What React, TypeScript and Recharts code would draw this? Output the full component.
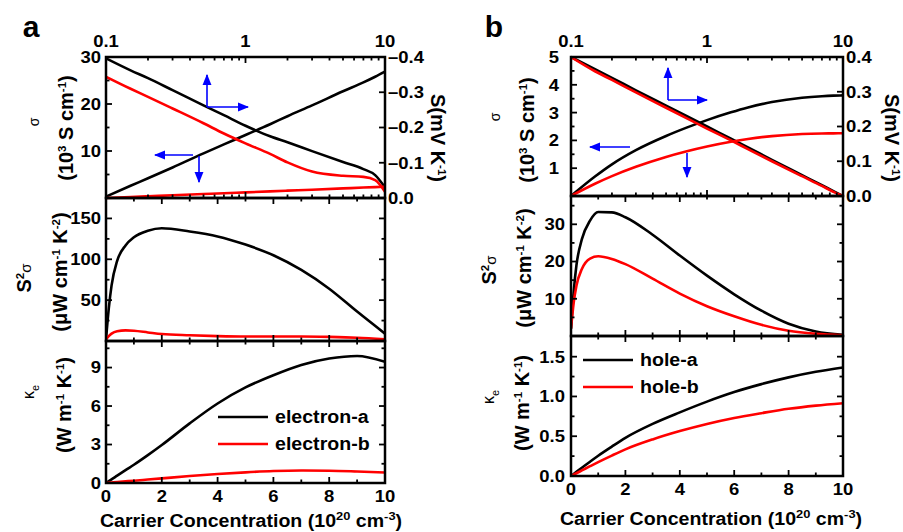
import React from "react";
import { LineChart, Line, XAxis, YAxis } from "recharts";

const W = 903;
const H = 532;
const FONT = "'Liberation Sans', Arial, Helvetica, sans-serif";
const SX = 1.12; // reference text is stretched sideways
const TICK_SIZE = 16.5;
const BLUE = "#0000ff";
const RED = "#ff0000";

// carrier concentration grids (10^20 cm^-3)
const LOG_N = [0.1, 0.15, 0.2, 0.3, 0.5, 0.7, 1, 1.5, 2, 3, 5, 7, 8.5, 10];
const LIN_N = [0, 0.1, 0.2, 0.4, 0.7, 1, 1.5, 2, 3, 4, 5, 6, 7, 8, 9, 10];

// panel a (electron) - sigma in 10^3 S/cm, S in mV/K, on log n
const A_SIGMA_A = [0.3, 2.6, 4.2, 6.5, 9.5, 11.4, 13.4, 15.7, 17.4, 19.7, 22.7, 24.6, 25.8, 26.9];
const A_SIGMA_B = [0, 0.21, 0.36, 0.57, 0.84, 1.02, 1.2, 1.41, 1.56, 1.77, 2.04, 2.22, 2.32, 2.4];
const A_S_A = [-0.396, -0.362, -0.34, -0.306, -0.263, -0.235, -0.205, -0.175, -0.158, -0.133, -0.102, -0.082, -0.065, -0.03];
const A_S_B = [-0.344, -0.31, -0.287, -0.254, -0.212, -0.183, -0.155, -0.125, -0.101, -0.075, -0.063, -0.06, -0.051, -0.018];
// panel a - power factor (uW cm-1 K-2) and kappa_e (W m-1 K-1) on linear n
const A_PF_A = [2, 40, 68, 98, 117, 127, 135, 138, 134, 128, 118, 105, 87, 64, 36, 9];
const A_PF_B = [2, 6, 9, 12, 13, 12.5, 10.5, 8.5, 7, 6, 5.5, 5.5, 5.5, 5, 4, 2];
const A_KE_A = [0, 0.14, 0.28, 0.57, 1.0, 1.42, 2.17, 2.96, 4.65, 6.2, 7.45, 8.4, 9.2, 9.7, 9.9, 9.45];
const A_KE_B = [0, 0.02, 0.04, 0.08, 0.13, 0.18, 0.27, 0.36, 0.54, 0.7, 0.83, 0.93, 0.97, 0.96, 0.9, 0.82];

// panel b (hole)
const B_SIGMA_A = [0, 0.7, 1.14, 1.65, 2.16, 2.45, 2.73, 3.01, 3.185, 3.38, 3.535, 3.59, 3.61, 3.62];
const B_SIGMA_B = [0, 0.44, 0.715, 1.05, 1.405, 1.6, 1.78, 1.95, 2.05, 2.155, 2.23, 2.25, 2.254, 2.255];
const B_S_A = [0.4, 0.365, 0.34, 0.304, 0.26, 0.231, 0.2, 0.165, 0.14, 0.104, 0.06, 0.031, 0.014, 0];
const B_S_B = [0.4, 0.359, 0.334, 0.298, 0.254, 0.225, 0.194, 0.16, 0.135, 0.1, 0.057, 0.029, 0.012, 0];
const B_PF_A = [2, 12, 19, 26, 31, 33.3, 33.2, 31.9, 27.2, 21.6, 16.2, 11.2, 6.8, 3.3, 1.2, 0.3];
const B_PF_B = [2, 9, 13.5, 18, 20.8, 21.4, 20.7, 19.3, 15.4, 11.4, 8, 5.3, 3, 1.4, 0.6, 0.2];
const B_KE_A = [0, 0.026, 0.052, 0.103, 0.18, 0.255, 0.37, 0.48, 0.655, 0.8, 0.935, 1.055, 1.155, 1.24, 1.31, 1.365];
const B_KE_B = [0, 0.018, 0.035, 0.07, 0.123, 0.175, 0.257, 0.335, 0.46, 0.565, 0.655, 0.73, 0.79, 0.845, 0.885, 0.915];

// ticks
const LOG_TICKS = [0.1, 0.2, 0.3, 0.4, 0.5, 0.6, 0.7, 0.8, 0.9, 1, 2, 3, 4, 5, 6, 7, 8, 9, 10];
const LOG_MAJOR = [0.1, 1, 10];
const LIN_TICKS = [0, 1, 2, 3, 4, 5, 6, 7, 8, 9, 10];
const LIN_MAJOR = [0, 2, 4, 6, 8, 10];
const A_SIG_TICKS = [5, 10, 15, 20, 25, 30];
const A_SIG_MAJOR = [10, 20, 30];
const A_S_TICKS = [0, -0.1, -0.2, -0.3, -0.4];
const A_PF_TICKS = [25, 50, 75, 100, 125, 150, 175];
const A_PF_MAJOR = [50, 100, 150];
const A_KE_TICKS = [0, 1.5, 3, 4.5, 6, 7.5, 9, 10.5];
const A_KE_MAJOR = [0, 3, 6, 9];
const B_SIG_TICKS = [0.5, 1, 1.5, 2, 2.5, 3, 3.5, 4, 4.5, 5];
const B_SIG_MAJOR = [1, 2, 3, 4, 5];
const B_S_TICKS = [0, 0.1, 0.2, 0.3, 0.4];
const B_PF_TICKS = [5, 10, 15, 20, 25, 30, 35];
const B_PF_MAJOR = [10, 20, 30];
const B_KE_TICKS = [0, 0.25, 0.5, 0.75, 1, 1.25, 1.5];
const B_KE_MAJOR = [0, 0.5, 1, 1.5];

type Box = { l: number; r: number; t: number; b: number };
const A_TOP: Box = { l: 106, r: 385, t: 57, b: 198 };
const A_MID: Box = { l: 106, r: 385, t: 198, b: 341 };
const A_BOT: Box = { l: 106, r: 385, t: 341, b: 483 };
const B_TOP: Box = { l: 571, r: 843, t: 57, b: 196 };
const B_MID: Box = { l: 571, r: 843, t: 196, b: 336 };
const B_BOT: Box = { l: 571, r: 843, t: 336, b: 476 };

const logRows = (sa: number[], sb: number[], ta: number[], tb: number[]) =>
  LOG_N.map((n, i) => ({ n, sigA: sa[i], sigB: sb[i], sA: ta[i], sB: tb[i] }));
const linRows = (a: number[], b: number[]) => LIN_N.map((n, i) => ({ n, a: a[i], b: b[i] }));

const dash = (v: number) => (v < 0 ? "\u2013" + Math.abs(v).toFixed(1) : v.toFixed(1));

function T({ x, y, rot = 0, sx = SX, sy = 1, size = TICK_SIZE, anchor = "middle", weight = 700, dy, children }: any) {
  return (
    <text
      transform={`translate(${x},${y}) rotate(${rot}) scale(${sx},${sy})`}
      textAnchor={anchor}
      dy={dy}
      fontFamily={FONT}
      fontWeight={weight}
      fontSize={size}
      fill="#000"
    >
      {children}
    </text>
  );
}

function xTick(box: Box, major: number[], side: "top" | "bottom" | null, gap: number) {
  return (p: any) => {
    const x = p.payload.coordinate;
    const v = p.payload.value;
    const big = major.includes(v);
    const len = big ? 6 : 3.5;
    return (
      <g>
        <line x1={x} x2={x} y1={box.t} y2={box.t + len} stroke="#000" strokeWidth={1.8} />
        <line x1={x} x2={x} y1={box.b} y2={box.b - len} stroke="#000" strokeWidth={1.8} />
        {side && big && (
          <T x={x} y={side === "top" ? box.t - gap : box.b + gap}>
            {String(v)}
          </T>
        )}
      </g>
    );
  };
}

function yTick(box: Box, major: number[], side: "left" | "right", mirror: boolean, fmt: (v: number) => string, gap: number) {
  return (p: any) => {
    const y = p.payload.coordinate;
    const v = p.payload.value;
    const big = major.includes(v);
    const len = big ? 6 : 3.5;
    return (
      <g>
        {(side === "left" || mirror) && (
          <line x1={box.l} x2={box.l + len} y1={y} y2={y} stroke="#000" strokeWidth={1.8} />
        )}
        {(side === "right" || mirror) && (
          <line x1={box.r} x2={box.r - len} y1={y} y2={y} stroke="#000" strokeWidth={1.8} />
        )}
        {big && (
          <T x={side === "left" ? box.l - gap : box.r + gap} y={y} dy="0.36em" anchor={side === "left" ? "end" : "start"}>
            {fmt(v)}
          </T>
        )}
      </g>
    );
  };
}

const mrg = (b: Box) => ({ top: b.t, left: b.l, right: W - b.r, bottom: H - b.b });
const abs: React.CSSProperties = { position: "absolute", left: 0, top: 0 };

function TopChart({ box, data, sig, sigMajor, sigMax, sTicks, sDomain, reversed, sigGap }: any) {
  return (
    <LineChart width={W} height={H} data={data} margin={mrg(box)} style={abs}>
      <XAxis
        dataKey="n"
        type="number"
        scale="log"
        domain={[0.1, 10]}
        allowDataOverflow
        orientation="top"
        mirror
        ticks={LOG_TICKS}
        interval={0}
        axisLine={false}
        tickLine={false}
        tick={xTick(box, LOG_MAJOR, "top", 10)}
      />
      <YAxis
        yAxisId="left"
        domain={[0, sigMax]}
        mirror
        ticks={sig}
        interval={0}
        axisLine={false}
        tickLine={false}
        tick={yTick(box, sigMajor, "left", false, String, sigGap)}
      />
      <YAxis
        yAxisId="right"
        orientation="right"
        domain={sDomain}
        reversed={reversed}
        mirror
        ticks={sTicks}
        interval={0}
        axisLine={false}
        tickLine={false}
        tick={yTick(box, sTicks, "right", false, dash, 3)}
      />
      <Line yAxisId="left" dataKey="sigA" type="monotone" stroke="#000" strokeWidth={2.6} dot={false} isAnimationActive={false} />
      <Line yAxisId="right" dataKey="sA" type="monotone" stroke="#000" strokeWidth={2.6} dot={false} isAnimationActive={false} />
      <Line yAxisId="left" dataKey="sigB" type="monotone" stroke={RED} strokeWidth={2.6} dot={false} isAnimationActive={false} />
      <Line yAxisId="right" dataKey="sB" type="monotone" stroke={RED} strokeWidth={2.6} dot={false} isAnimationActive={false} />
    </LineChart>
  );
}

function LinChart({ box, data, yTicks, yMajor, yMax, fmt, labels, gap }: any) {
  return (
    <LineChart width={W} height={H} data={data} margin={mrg(box)} style={abs}>
      <XAxis
        dataKey="n"
        type="number"
        domain={[0, 10]}
        allowDataOverflow
        orientation="bottom"
        mirror
        ticks={LIN_TICKS}
        interval={0}
        axisLine={false}
        tickLine={false}
        tick={xTick(box, LIN_MAJOR, labels ? "bottom" : null, 19)}
      />
      <YAxis
        domain={[0, yMax]}
        allowDataOverflow
        mirror
        ticks={yTicks}
        interval={0}
        axisLine={false}
        tickLine={false}
        tick={yTick(box, yMajor, "left", true, fmt, gap)}
      />
      <Line dataKey="a" type="monotone" stroke="#000" strokeWidth={2.6} dot={false} isAnimationActive={false} />
      <Line dataKey="b" type="monotone" stroke={RED} strokeWidth={2.6} dot={false} isAnimationActive={false} />
    </LineChart>
  );
}

const sup = (s: string, k: string) => [
  <tspan key={k} dy={-7} fontSize={11.5}>{s}</tspan>,
];

function Overlay() {
  const boxes = [A_TOP, A_MID, A_BOT, B_TOP, B_MID, B_BOT];
  const U = 20;
  const sigUnit = (x: number, y: number) => (
    <T x={x} y={y} rot={-90} sx={1} size={U} dy="0.36em">
      (10{sup("3", "a")}<tspan dy={7}> S cm</tspan>{sup("-1", "b")}<tspan dy={7}>)</tspan>
    </T>
  );
  const pfUnit = (x: number, y: number) => (
    <T x={x} y={y} rot={-90} sx={1} size={U} dy="0.36em">
      (μW cm{sup("-1", "a")}<tspan dy={7}> K</tspan>{sup("-2", "b")}<tspan dy={7}>)</tspan>
    </T>
  );
  const keUnit = (x: number, y: number) => (
    <T x={x} y={y} rot={-90} sx={1} size={U} dy="0.36em">
      (W m{sup("-1", "a")}<tspan dy={7}> K</tspan>{sup("-1", "b")}<tspan dy={7}>)</tspan>
    </T>
  );
  const sUnit = (x: number, y: number) => (
    <T x={x} y={y} rot={90} sx={1} size={U} dy="0.36em">
      S(mV K{sup("-1", "a")}<tspan dy={7}>)</tspan>
    </T>
  );
  const pfName = (x: number, y: number) => (
    <T x={x} y={y} rot={-90} sx={1} size={U} dy="0.36em">
      S{sup("2", "a")}<tspan dy={7} fontWeight={400} fontSize={15}>σ</tspan>
    </T>
  );
  const keName = (x: number, y: number) => (
    <T x={x} y={y} rot={-90} sx={1} size={16} weight={400} dy="0.36em">
      κ<tspan dy={5} fontSize={11}>e</tspan>
    </T>
  );
  const sigName = (x: number, y: number) => (
    <T x={x} y={y} rot={-90} sx={1} size={14} weight={400} dy="0.36em">σ</T>
  );
  const xTitle = (x: number, y: number) => (
    <T x={x} y={y} size={17.5}>
      Carrier Concentration (10{sup("20", "a")}<tspan dy={7}> cm</tspan>{sup("-3", "b")}<tspan dy={7}>)</tspan>
    </T>
  );
  const arrow = (x1: number, y1: number, x2: number, y2: number) => (
    <line x1={x1} y1={y1} x2={x2} y2={y2} stroke={BLUE} strokeWidth={1.6} markerEnd="url(#ah)" />
  );
  const legend = (x: number, y: number, gapY: number, names: string[]) => (
    <g>
      <line x1={x} x2={x + 50} y1={y} y2={y} stroke="#000" strokeWidth={2.6} />
      <line x1={x} x2={x + 50} y1={y + gapY} y2={y + gapY} stroke={RED} strokeWidth={2.6} />
      <T x={x + 57} y={y} dy="0.36em" anchor="start" size={17.5}>{names[0]}</T>
      <T x={x + 57} y={y + gapY} dy="0.36em" anchor="start" size={17.5}>{names[1]}</T>
    </g>
  );
  return (
    <svg width={W} height={H} style={{ ...abs, pointerEvents: "none" }}>
      <defs>
        <marker id="ah" viewBox="0 0 10 10" refX="9" refY="5" markerWidth="7" markerHeight="7" orient="auto">
          <path d="M0,1 L10,5 L0,9 z" fill={BLUE} />
        </marker>
      </defs>
      {boxes.map((b, i) => (
        <rect key={i} x={b.l} y={b.t} width={b.r - b.l} height={b.b - b.t} fill="none" stroke="#000" strokeWidth={2.5} />
      ))}
      <T x={31} y={37} size={30} sx={1}>a</T>
      <T x={494} y={37} size={30} sx={1}>b</T>

      {sigName(34, 122)}
      {sigUnit(66, 128)}
      {sUnit(438, 138)}
      {pfName(24, 278)}
      {pfUnit(60, 272)}
      {keName(28, 392)}
      {keUnit(64, 405)}
      {xTitle(251, 527)}

      {sigName(495, 117)}
      {sigUnit(527, 130)}
      {sUnit(892, 138)}
      {pfName(489, 270)}
      {pfUnit(524, 268)}
      {keName(488, 397)}
      {keUnit(522, 403)}
      {xTitle(711, 525)}

      {arrow(207, 107, 207, 75)}
      {arrow(207, 107, 248, 107)}
      {arrow(193, 155, 155, 155)}
      {arrow(199, 156, 199, 182)}
      {arrow(668, 100, 668, 68)}
      {arrow(668, 100, 707, 100)}
      {arrow(630, 147, 590, 147)}
      {arrow(687, 153, 687, 177)}

      {legend(218, 417, 27, ["electron-a", "electron-b"])}
      {legend(583, 360, 27, ["hole-a", "hole-b"])}
    </svg>
  );
}

export default function App() {
  return (
    <div style={{ position: "absolute", left: 0, top: 0, width: W, height: H, background: "#fff" }}>
      <TopChart
        box={A_TOP}
        data={logRows(A_SIGMA_A, A_SIGMA_B, A_S_A, A_S_B)}
        sig={A_SIG_TICKS}
        sigMajor={A_SIG_MAJOR}
        sigMax={30}
        sTicks={A_S_TICKS}
        sDomain={[-0.4, 0]}
        reversed
        sigGap={5}
      />
      <LinChart box={A_MID} data={linRows(A_PF_A, A_PF_B)} yTicks={A_PF_TICKS} yMajor={A_PF_MAJOR} yMax={175} fmt={String} gap={5} />
      <LinChart box={A_BOT} data={linRows(A_KE_A, A_KE_B)} yTicks={A_KE_TICKS} yMajor={A_KE_MAJOR} yMax={11.07} fmt={String} gap={5} labels />
      <TopChart
        box={B_TOP}
        data={logRows(B_SIGMA_A, B_SIGMA_B, B_S_A, B_S_B)}
        sig={B_SIG_TICKS}
        sigMajor={B_SIG_MAJOR}
        sigMax={5}
        sTicks={B_S_TICKS}
        sDomain={[0, 0.4]}
        reversed={false}
        sigGap={12}
      />
      <LinChart box={B_MID} data={linRows(B_PF_A, B_PF_B)} yTicks={B_PF_TICKS} yMajor={B_PF_MAJOR} yMax={37.6} fmt={String} gap={6} />
      <LinChart
        box={B_BOT}
        data={linRows(B_KE_A, B_KE_B)}
        yTicks={B_KE_TICKS}
        yMajor={B_KE_MAJOR}
        yMax={1.76}
        fmt={(v: number) => v.toFixed(1)}
        gap={6}
        labels
      />
      <Overlay />
    </div>
  );
}
